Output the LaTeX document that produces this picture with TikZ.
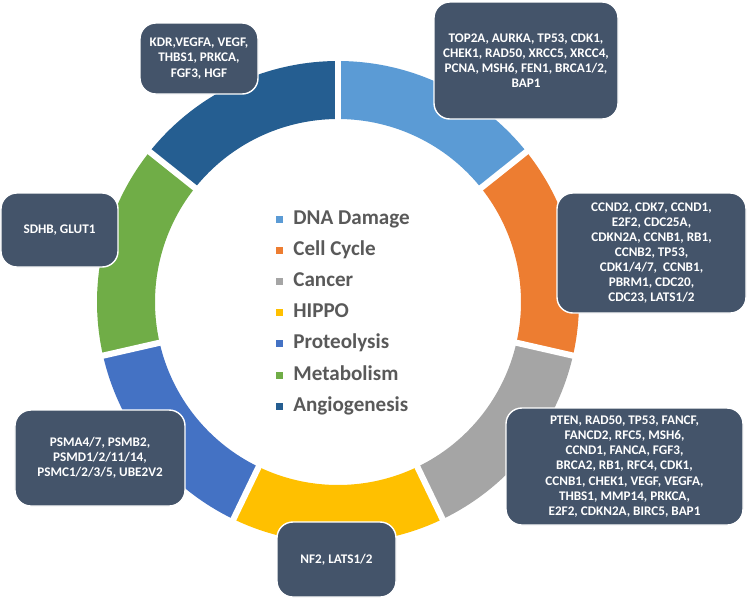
\documentclass[tikz,border=0pt]{standalone}
\usepackage{fontspec}
\setmainfont{Carlito}
\definecolor{dnablue}{HTML}{5B9BD5}
\definecolor{cycleorange}{HTML}{ED7D31}
\definecolor{cancergray}{HTML}{A5A5A5}
\definecolor{hippoyellow}{HTML}{FFC000}
\definecolor{proteoblue}{HTML}{4472C4}
\definecolor{metabgreen}{HTML}{70AD47}
\definecolor{angioblue}{HTML}{255E91}
\definecolor{slate}{HTML}{44546A}
\definecolor{legendgray}{HTML}{595959}

\begin{document}
\begin{tikzpicture}[scale=0.2,
    genebox/.style={draw=white, line width=0.8pt, fill=slate, rounded corners=9pt,
        text=white, align=center, inner sep=2pt,
        font=\fontsize{7.5}{8.6}\selectfont\bfseries},
    legendtext/.style={anchor=base west, inner sep=0pt, text=legendgray,
        font=\fontsize{12}{14}\selectfont\bfseries}]
    \useasboundingbox (0,0) rectangle (75,-59.9);
    % ring
    \foreach \col [count=\i] in {dnablue,cycleorange,cancergray,hippoyellow,proteoblue,metabgreen,angioblue} {
        \pgfmathsetmacro{\a}{90-360/7*(\i-1)}
        \pgfmathsetmacro{\b}{\a-360/7}
        \fill [\col, shift={(33.8,-30.2)}] (\a:24.1) arc (\a:\b:24.1) -- (\b:18.3) arc (\b:\a:18.3) -- cycle;
    }
    \foreach \i in {0,...,6} {
        \draw [white, line width=3.5pt, shift={(33.8,-30.2)}] ({90-360/7*\i}:17.5) -- ({90-360/7*\i}:25);
    }
    % legend
    \foreach \lname/\col [count=\i] in {DNA Damage/dnablue, Cell Cycle/cycleorange, Cancer/cancergray,
            HIPPO/hippoyellow, Proteolysis/proteoblue, Metabolism/metabgreen, Angiogenesis/angioblue} {
        \fill [\col] (27.6,{-21.55-3.12*(\i-1)}) rectangle ++(0.7,-0.7);
        \node [legendtext] (leg\i) at (29.3,{-22.4-3.12*(\i-1)}) {\lname};
    }
    % gene boxes
    \node [genebox, minimum width=3.68cm, minimum height=2.34cm] (dna) at (52.6,-6.05)
        {TOP2A, AURKA, TP53, CDK1,\\CHEK1, RAD50, XRCC5, XRCC4,\\PCNA, MSH6, FEN1, BRCA1/2,\\BAP1};
    \node [genebox, minimum width=2.36cm, minimum height=1.42cm] (angio) at (19.9,-5.85)
        {KDR,VEGFA, VEGF,\\THBS1, PRKCA,\\FGF3, HGF};
    \node [genebox, minimum width=3.78cm, minimum height=2.4cm] (cycle) at (65.15,-25.3)
        {CCND2, CDK7, CCND1,\\E2F2, CDC25A,\\CDKN2A, CCNB1, RB1,\\CCNB2, TP53,\\CDK1/4/7,\ \ CCNB1,\\PBRM1, CDC20,\\CDC23, LATS1/2};
    \node [genebox, minimum width=4.74cm, minimum height=2.34cm] (cancer) at (62.45,-46.65)
        {PTEN, RAD50, TP53, FANCF,\\FANCD2, RFC5, MSH6,\\CCND1, FANCA, FGF3,\\BRCA2, RB1, RFC4, CDK1,\\CCNB1, CHEK1, VEGF, VEGFA,\\THBS1, MMP14, PRKCA,\\E2F2, CDKN2A, BIRC5, BAP1};
    \node [genebox, minimum width=2.34cm, minimum height=1.48cm] (metab) at (5.95,-23.0)
        {SDHB, GLUT1};
    \node [genebox, minimum width=3.4cm, minimum height=1.92cm] (proteo) at (10.0,-45.8)
        {PSMA4/7, PSMB2,\\PSMD1/2/11/14,\\PSMC1/2/3/5, UBE2V2};
    \node [genebox, minimum width=2.38cm, minimum height=1.5cm] (hippo) at (33.65,-55.95)
        {NF2, LATS1/2};
\end{tikzpicture}
\end{document}
